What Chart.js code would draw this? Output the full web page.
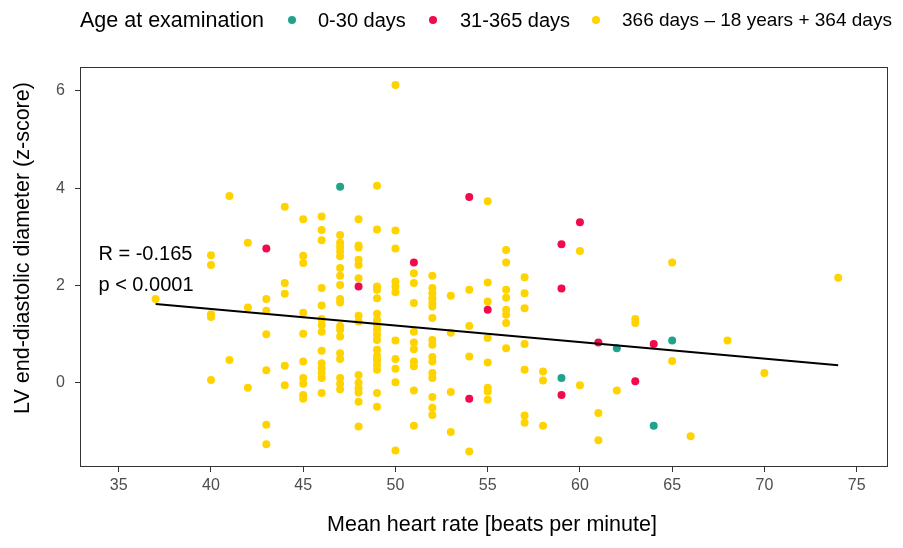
<!DOCTYPE html>
<html>
<head>
<meta charset="utf-8">
<script src="https://cdn.jsdelivr.net/npm/chart.js@4/dist/chart.umd.min.js"></script>
<style>
  body { margin: 0; background: #fff; }
  #wrap { position: relative; width: 903px; height: 548px; font-family: "Liberation Sans", Arial, sans-serif; }
  .lg { position: absolute; top: 8px; font-size: 20px; color: #000; line-height: 24px; white-space: nowrap; }
  .dot { position: absolute; top: 16px; width: 8px; height: 8px; border-radius: 50%; }
</style>
</head>
<body>
<div id="wrap">
  <canvas id="chart" width="903" height="548"></canvas>
  <span class="lg" style="left:80px;font-size:21.5px;top:7.5px">Age at examination</span>
  <span class="dot" style="left:288px;background:#1fa38b"></span>
  <span class="lg" style="left:318px">0-30 days</span>
  <span class="dot" style="left:429px;background:#f20a4c"></span>
  <span class="lg" style="left:460px">31-365 days</span>
  <span class="dot" style="left:592px;background:#ffd300"></span>
  <span class="lg" style="left:622px;font-size:19px;top:8.3px">366 days – 18 years + 364 days</span>
</div>
<script>
// groups
const groupNames = ['0-30 days', '31-365 days', '366 days – 18 years + 364 days'];

// 0-30 days
const neoRate = [47, 59, 62, 64, 65];
const neoZ = [4.03, 0.10, 0.71, -0.88, 0.87];

// 31-365 days
const infRate = [43, 48, 51, 54, 54, 55, 59, 59, 59, 60, 61, 63, 64];
const infZ = [2.76, 1.98, 2.47, 3.82, -0.33, 1.50, 2.85, 1.94, -0.25, 3.30, 0.83, 0.03, 0.80];

// 366 days - 18 years, grouped by heart rate
const childRates = [37, 40, 41, 42, 43, 44, 45, 46, 47, 48, 49, 50, 51, 52, 53, 54, 55, 56, 57, 58, 60, 61, 62, 63, 65, 66, 68, 70, 74];
const childZ = [
  [1.72],
  [2.62, 2.42, 1.41, 1.35, 0.06],
  [3.84, 0.47],
  [2.88, 1.55, -0.10],
  [1.72, 1.48, 1.00, 0.26, -0.86, -1.26],
  [3.62, 2.05, 1.83, 0.35, -0.05],
  [3.36, 2.61, 2.46, 1.44, 1.01, 0.44, 0.10, -0.02, -0.25, -0.33],
  [3.42, 3.14, 2.93, 1.95, 1.59, 1.31, 1.19, 1.05, 0.66, 0.40, 0.30, 0.20, 0.10, -0.21],
  [3.04, 2.88, 2.79, 2.70, 2.60, 2.36, 2.20, 2.01, 1.72, 1.65, 1.17, 1.09, 0.95, 0.61, 0.49, 0.10, -0.02, -0.13],
  [3.36, 2.82, 2.78, 2.53, 2.42, 2.15, 1.38, 1.26, 0.16, 0.00, -0.11, -0.20, -0.39, -0.90],
  [4.05, 3.15, 1.98, 1.91, 1.74, 1.42, 1.29, 1.19, 1.09, 0.99, 0.88, 0.68, 0.55, 0.47, 0.37, 0.27, -0.21, -0.49],
  [6.12, 3.13, 2.76, 2.08, 1.98, 1.86, 0.87, 0.49, 0.29, 0.01, -1.39],
  [2.25, 2.05, 1.64, 1.05, 0.83, 0.69, 0.44, 0.34, -0.16, -0.88],
  [2.20, 1.95, 1.84, 1.74, 1.64, 1.57, 1.33, 0.88, 0.78, 0.53, 0.44, 0.20, 0.10, -0.29, -0.51, -0.66],
  [1.79, 1.03, -0.19, -1.01],
  [1.91, 1.17, 0.54, -1.41],
  [3.73, 2.06, 1.67, 0.92, 0.42, -0.10, -0.18, -0.35],
  [2.73, 2.47, 1.91, 1.75, 1.50, 1.40, 1.23, 0.71],
  [2.17, 1.84, 1.53, 0.80, 0.27, -0.67, -0.82],
  [0.23, 0.05, -0.88],
  [2.71, -0.05],
  [-0.62, -1.18],
  [-0.16],
  [1.31, 1.23],
  [2.47, 0.45],
  [-1.10],
  [0.87],
  [0.20],
  [2.16]
];

// regression line end points
const fitRate = [37, 74];
const fitZ = [1.62, 0.36];

const xTicks = [35, 40, 45, 50, 55, 60, 65, 70, 75];
const yTicks = [0, 2, 4, 6];
const statsText = ['R = -0.165', 'p < 0.0001'];
const xTitle = 'Mean heart rate [beats per minute]';
const yTitle = 'LV end-diastolic diameter (z-score)';

const pairs = (xs, ys) => xs.map((v, i) => ({ x: v, y: ys[i] }));
const childPoints = childRates.flatMap((r, i) => childZ[i].map(z => ({ x: r, y: z })));

const FONT = '"Liberation Sans", Arial, sans-serif';

// panel border, axis titles and the correlation note
const framePlugin = {
  id: 'frame',
  afterDatasetsDraw(chart) {
    const { ctx, chartArea: a, scales: { x, y } } = chart;
    ctx.save();
    ctx.strokeStyle = '#333';
    ctx.lineWidth = 1;
    ctx.strokeRect(a.left + 0.5, a.top + 0.5, a.width - 1, a.height - 1);

    ctx.fillStyle = '#000';
    ctx.font = '20px ' + FONT;
    ctx.textBaseline = 'middle';
    ctx.textAlign = 'left';
    ctx.fillText(statsText[0], x.getPixelForValue(33.9), y.getPixelForValue(2.63));
    ctx.fillText(statsText[1], x.getPixelForValue(33.9), y.getPixelForValue(2.0));

    ctx.font = '21.5px ' + FONT;
    ctx.textAlign = 'center';
    ctx.fillText(xTitle, 492, 525);
    ctx.translate(23, 248);
    ctx.rotate(-Math.PI / 2);
    ctx.fillText(yTitle, 0, 0);
    ctx.restore();
  }
};

const pointDs = (label, data, color) => ({
  type: 'scatter', label, data,
  backgroundColor: color, borderWidth: 0,
  pointRadius: 4, pointHoverRadius: 4
});

new Chart(document.getElementById('chart'), {
  data: {
    datasets: [
      {
        type: 'line', label: 'fit', data: pairs(fitRate, fitZ),
        borderColor: '#000', borderWidth: 2, pointRadius: 0, fill: false
      },
      pointDs(groupNames[0], pairs(neoRate, neoZ), '#1fa38b'),
      pointDs(groupNames[1], pairs(infRate, infZ), '#f20a4c'),
      pointDs(groupNames[2], childPoints, '#ffd300')
    ]
  },
  options: {
    responsive: false,
    animation: false,
    events: [],
    layout: { padding: { top: 67, right: 15, left: 0, bottom: 0 } },
    plugins: { legend: { display: false }, tooltip: { enabled: false } },
    scales: {
      x: {
        type: 'linear', min: 32.9, max: 76.7,
        afterBuildTicks: s => { s.ticks = xTicks.map(v => ({ value: v })); },
        afterFit: s => { s.height = 81; },
        border: { display: false },
        grid: { drawOnChartArea: false, drawTicks: true, tickLength: 5, color: '#333' },
        ticks: { color: '#4d4d4d', font: { family: FONT, size: 16 }, padding: 4 }
      },
      y: {
        type: 'linear', min: -1.73, max: 6.49,
        afterBuildTicks: s => { s.ticks = yTicks.map(v => ({ value: v })); },
        afterFit: s => { s.width = 80; },
        border: { display: false },
        grid: { drawOnChartArea: false, drawTicks: true, tickLength: 5, color: '#333' },
        ticks: { color: '#4d4d4d', font: { family: FONT, size: 16 }, padding: 10 }
      }
    }
  },
  plugins: [framePlugin]
});
</script>
</body>
</html>
